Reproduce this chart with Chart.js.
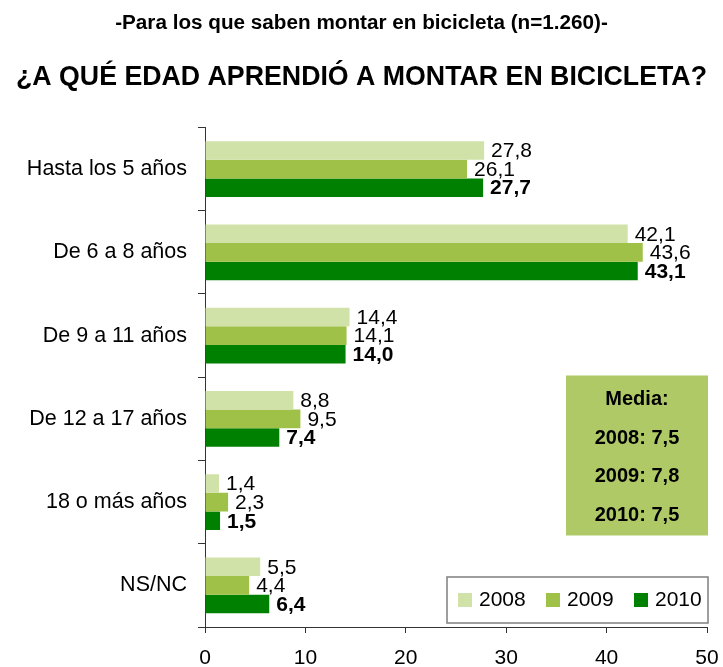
<!DOCTYPE html>
<html>
<head>
<meta charset="utf-8">
<script src="https://cdn.jsdelivr.net/npm/chart.js@4/dist/chart.umd.min.js"></script>
<style>
  html, body { margin: 0; padding: 0; background: #fff; }
  canvas { display: block; }
</style>
</head>
<body>
<canvas id="c" width="723" height="667"></canvas>
<script>
const titleText = '-Para los que saben montar en bicicleta (n=1.260)-';
const subtitleText = '¿A QUÉ EDAD APRENDIÓ A MONTAR EN BICICLETA?';
const categories = ['Hasta los 5 años', 'De 6 a 8 años', 'De 9 a 11 años', 'De 12 a 17 años', '18 o más años', 'NS/NC'];
const years = ['2008', '2009', '2010'];
const values2008 = [27.8, 42.1, 14.4, 8.8, 1.4, 5.5];
const values2009 = [26.1, 43.6, 14.1, 9.5, 2.3, 4.4];
const values2010 = [27.7, 43.1, 14.0, 7.4, 1.5, 6.4];
const xTicks = [0, 10, 20, 30, 40, 50];
const mediaLines = ['Media:', '2008: 7,5', '2009: 7,8', '2010: 7,5'];

const FONT = '"Liberation Sans", Arial, Helvetica, sans-serif';
const colors = ['#D1E2A9', '#9FC148', '#008000'];
const axisColor = '#333333';

function fmt(v) { return v.toFixed(1).replace('.', ','); }

const dataLabels = {
  id: 'dataLabels',
  afterDatasetsDraw(chart) {
    const ctx = chart.ctx;
    ctx.save();
    ctx.fillStyle = '#000';
    ctx.textAlign = 'left';
    ctx.textBaseline = 'middle';
    chart.data.datasets.forEach((ds, di) => {
      const meta = chart.getDatasetMeta(di);
      ctx.font = (di === 2 ? 'bold ' : '') + '21px ' + FONT;
      meta.data.forEach((bar, i) => {
        ctx.fillText(fmt(ds.data[i]), bar.x + 7, bar.y + 1);
      });
    });
    ctx.restore();
  }
};

const boxes = {
  id: 'boxes',
  afterDraw(chart) {
    const ctx = chart.ctx;
    const a = chart.chartArea;
    ctx.save();
    // Media box
    const mx = a.right - 141, my = a.top + 248, mw = 142, mh = 160;
    ctx.fillStyle = '#AFC966';
    ctx.fillRect(mx, my, mw, mh);
    ctx.fillStyle = '#000';
    ctx.font = 'bold 20px ' + FONT;
    ctx.textAlign = 'center';
    ctx.textBaseline = 'middle';
    const ys = [24, 63, 101, 140];
    mediaLines.forEach((t, i) => ctx.fillText(t, mx + mw / 2, my + ys[i]));
    // Legend box
    const lx = a.right - 260, ly = a.bottom - 50, lw = 261, lh = 46;
    ctx.fillStyle = '#fff';
    ctx.fillRect(lx, ly, lw, lh);
    ctx.strokeStyle = '#7f7f7f';
    ctx.lineWidth = 1.5;
    ctx.strokeRect(lx, ly, lw, lh);
    ctx.font = '21px ' + FONT;
    ctx.textAlign = 'left';
    const sq = [11, 99, 187];
    chart.data.datasets.forEach((ds, i) => {
      ctx.fillStyle = ds.backgroundColor;
      ctx.fillRect(lx + sq[i], ly + 16, 14, 14);
      ctx.fillStyle = '#000';
      ctx.fillText(ds.label, lx + sq[i] + 21, ly + 23);
    });
    ctx.restore();
  }
};

new Chart(document.getElementById('c'), {
  type: 'bar',
  data: {
    labels: categories,
    datasets: [
      { label: years[0], data: values2008, backgroundColor: colors[0] },
      { label: years[1], data: values2009, backgroundColor: colors[1] },
      { label: years[2], data: values2010, backgroundColor: colors[2] }
    ]
  },
  options: {
    indexAxis: 'y',
    responsive: false,
    animation: false,
    devicePixelRatio: 1,
    categoryPercentage: 0.67,
    barPercentage: 1.0,
    layout: { padding: { left: 16, right: 16, top: 0, bottom: 0 } },
    plugins: {
      legend: { display: false },
      tooltip: { enabled: false },
      title: {
        display: true,
        text: titleText,
        color: '#000',
        font: { family: FONT, size: 20.7, weight: 'bold' },
        padding: { top: 11, bottom: 0 }
      },
      subtitle: {
        display: true,
        text: subtitleText,
        color: '#000',
        font: { family: FONT, size: 27.2, weight: 'bold' },
        padding: { top: 25, bottom: 34 }
      }
    },
    scales: {
      x: {
        type: 'linear',
        position: 'bottom',
        min: xTicks[0],
        max: xTicks[xTicks.length - 1],
        afterBuildTicks(scale) { scale.ticks = xTicks.map(v => ({ value: v })); },
        afterFit(scale) { scale.height = 40; scale.paddingRight = 0; scale.paddingLeft = 0; },
        ticks: {
          color: '#000',
          font: { family: FONT, size: 21 },
          padding: 13,
          maxRotation: 0,
          callback: v => String(v)
        },
        grid: { display: true, drawOnChartArea: false, drawTicks: true, tickLength: 6, color: axisColor },
        border: { display: true, color: axisColor, width: 1 }
      },
      y: {
        type: 'category',
        position: 'left',
        afterFit(scale) { scale.width = 189; },
        ticks: {
          color: '#000',
          font: { family: FONT, size: 21.5 },
          padding: 11
        },
        grid: { display: true, offset: true, drawOnChartArea: false, drawTicks: true, tickLength: 7, color: axisColor },
        border: { display: true, color: axisColor, width: 1 }
      }
    }
  },
  plugins: [dataLabels, boxes]
});
</script>
</body>
</html>
